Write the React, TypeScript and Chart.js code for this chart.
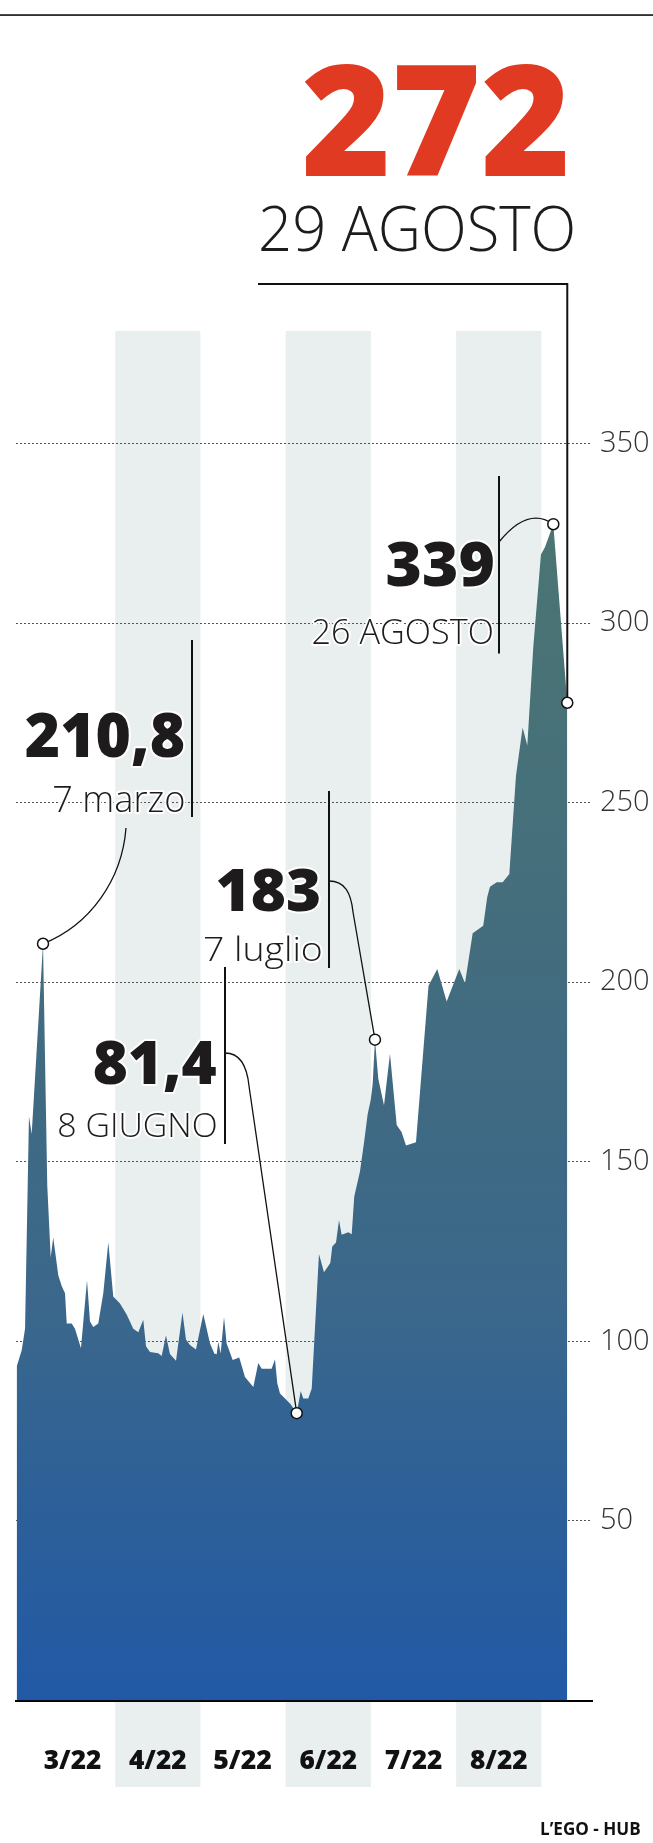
import React, { useEffect, useRef } from 'react';
import { Chart, registerables } from 'chart.js';

Chart.register(...registerables);

// ---------- data ----------
const monthLabels = ['3/22', '4/22', '5/22', '6/22', '7/22', '8/22'];
const shadedMonths = [1, 3, 5];
const yTicks = [50, 100, 150, 200, 250, 300, 350];

// x = months since 1 March 2022 (band units), y = price as drawn
const priceX = [
  -0.155, -0.096, -0.057, -0.011, 0.021, 0.154, 0.204, 0.244, 0.274, 0.333,
  0.373, 0.412, 0.432, 0.49, 0.529, 0.599, 0.67, 0.705, 0.744, 0.802,
  0.861, 0.92, 0.978, 1.057, 1.135, 1.213, 1.272, 1.33, 1.362, 1.409,
  1.506, 1.546, 1.596, 1.643, 1.714, 1.79, 1.831, 1.878, 1.948, 2.034,
  2.113, 2.163, 2.191, 2.21, 2.238, 2.277, 2.308, 2.379, 2.456, 2.523,
  2.621, 2.679, 2.719, 2.836, 2.875, 2.902, 2.934, 2.993, 3.059, 3.13,
  3.177, 3.207, 3.266, 3.306, 3.391, 3.45, 3.524, 3.547, 3.591, 3.626,
  3.657, 3.735, 3.775, 3.805, 3.872, 3.919, 3.962, 3.998, 4.021, 4.048,
  4.087, 4.154, 4.224, 4.303, 4.361, 4.412, 4.529, 4.676, 4.779, 4.889,
  5.037, 5.104, 5.194, 5.318, 5.365, 5.397, 5.476, 5.546, 5.624, 5.702,
  5.78, 5.835, 5.905, 5.995, 6.042, 6.14, 6.304,
];
const priceY = [
  93, 97.5, 103.5, 162.7, 157.7, 210.7, 143.3, 123.4, 128.9, 118.4,
  115.4, 113.4, 105, 105, 103.5, 98.1, 117, 105.5, 104, 105,
  113.4, 127.6, 112.5, 110.5, 107.5, 103.5, 102.5, 106, 98.6, 97,
  96.7, 95.9, 101.7, 96.5, 94.6, 108, 100.5, 99, 97.7, 107.6,
  99.4, 96.6, 96.4, 99.9, 96.6, 106.8, 99.4, 94.8, 95.5, 90.1,
  87.3, 94, 92.4, 92.4, 95, 88.3, 85.5, 84.1, 82.5, 80,
  86.2, 84.1, 84.1, 86.9, 124.3, 119.2, 121.8, 126.4, 127.5, 133.8,
  129.7, 130.4, 129.8, 140.3, 147.3, 155.2, 163.2, 167.2, 171.6, 184,
  173.1, 165.7, 180.1, 160.2, 158.2, 154.5, 155.4, 199, 203.7, 194.6,
  203.7, 199.7, 213.6, 215.7, 223.7, 226.6, 227.8, 227.8, 230.1, 257.5,
  270.9, 265.9, 293.3, 319.1, 321.1, 327.5, 277.8,
];
// highlighted points: 7 marzo, 8 giugno, 7 luglio, 26 agosto, 29 agosto
const highlightX = [0.154, 3.13, 4.048, 6.14, 6.304];
const highlightValues = ['210,8', '81,4', '183', '339', '272'];
const highlightDates = ['7 marzo', '8 GIUGNO', '7 luglio', '26 AGOSTO', '29 AGOSTO'];

// ---------- layout / style ----------
const W = 653;
const H = 1843;
const FONT = '"Open Sans", "DejaVu Sans", sans-serif';
const X_MIN = -0.163;
const X_MAX = 6.594;
const Y_MAX = 381.3;
const BAND_BOTTOM = 1787;
const INK = '#1d1b1c';

type TextOpts = {
  left?: number;
  right?: number;
  center?: number;
  base: number;
  cap: number;
  width?: number;
  weight: string;
  color: string;
  halo?: number;
};

function inkText(ctx: CanvasRenderingContext2D, text: string, o: TextOpts) {
  ctx.save();
  ctx.font = `${o.weight} 100px ${FONT}`;
  const capRatio = ctx.measureText('H').actualBoundingBoxAscent / 100 || 0.714;
  const size = o.cap / capRatio;
  ctx.font = `${o.weight} ${size}px ${FONT}`;
  ctx.textAlign = 'left';
  ctx.textBaseline = 'alphabetic';
  const m = ctx.measureText(text);
  const inkL = m.actualBoundingBoxLeft;
  const inkR = m.actualBoundingBoxRight;
  const sx = o.width ? o.width / (inkL + inkR) : 1;
  const w = (inkL + inkR) * sx;
  let x0: number;
  if (o.left !== undefined) x0 = o.left + inkL * sx;
  else if (o.right !== undefined) x0 = o.right - inkR * sx;
  else x0 = (o.center as number) - w / 2 + inkL * sx;
  ctx.translate(x0, o.base);
  ctx.scale(sx, 1);
  if (o.halo) {
    ctx.lineWidth = o.halo;
    ctx.lineJoin = 'round';
    ctx.strokeStyle = '#fff';
    ctx.strokeText(text, 0, 0);
  }
  ctx.fillStyle = o.color;
  ctx.fillText(text, 0, 0);
  ctx.restore();
}

const decor = {
  id: 'decor',
  beforeDraw(chart: any) {
    const { ctx, chartArea } = chart;
    const xs = chart.scales.x;
    ctx.save();
    // top rule
    ctx.fillStyle = '#000';
    ctx.fillRect(0, 14.3, W, 1.5);
    // month bands
    ctx.fillStyle = '#E9EFEF';
    shadedMonths.forEach((i) => {
      const l = xs.getPixelForValue(i);
      const r = xs.getPixelForValue(i + 1);
      ctx.fillRect(l, chartArea.top, r - l, BAND_BOTTOM - chartArea.top);
    });
    ctx.restore();
  },
  beforeDatasetDraw(chart: any, args: any) {
    if (args.index !== 0) return;
    const { ctx } = chart;
    const xs = chart.scales.x;
    const ys = chart.scales.y;
    const pts = highlightX.map((hx) => {
      const i = priceX.indexOf(hx);
      return { x: xs.getPixelForValue(priceX[i]), y: ys.getPixelForValue(priceY[i]) };
    });
    ctx.save();
    ctx.strokeStyle = '#111';
    ctx.lineCap = 'butt';
    // vertical bars beside labels
    ctx.lineWidth = 2;
    const bars = [
      [192, 640, 817],
      [225, 967, 1144],
      [329, 791, 968],
      [499, 476, 653.5],
    ];
    bars.forEach(([x, t, b]) => {
      ctx.beginPath();
      ctx.moveTo(x, t);
      ctx.lineTo(x, b);
      ctx.stroke();
    });
    // bracket for 29 agosto
    ctx.beginPath();
    ctx.moveTo(258, 284);
    ctx.lineTo(pts[4].x, 284);
    ctx.lineTo(pts[4].x, pts[4].y);
    ctx.stroke();
    // connectors
    ctx.lineWidth = 1.3;
    ctx.beginPath();
    ctx.moveTo(126, 828);
    ctx.bezierCurveTo(122, 880, 90, 925, pts[0].x, pts[0].y);
    ctx.stroke();
    ctx.beginPath();
    ctx.moveTo(225, 1053);
    ctx.bezierCurveTo(240, 1053, 247, 1066, 249, 1086);
    ctx.lineTo(pts[1].x, pts[1].y);
    ctx.stroke();
    ctx.beginPath();
    ctx.moveTo(329, 881);
    ctx.bezierCurveTo(345, 881, 351, 893, 353, 912);
    ctx.lineTo(pts[2].x, pts[2].y);
    ctx.stroke();
    ctx.beginPath();
    ctx.moveTo(499, 542);
    ctx.quadraticCurveTo(528, 506, pts[3].x, pts[3].y);
    ctx.stroke();
    ctx.restore();
  },
  afterDraw(chart: any) {
    const { ctx } = chart;
    const xs = chart.scales.x;
    // headline
    inkText(ctx, highlightValues[4], { right: 565.4, base: 176, cap: 111, width: 261, weight: '800', color: '#E03A22' });
    inkText(ctx, highlightDates[4], { right: 573, base: 250.7, cap: 44, width: 312, weight: '300', color: INK });
    // annotations
    const big = { weight: '800', color: INK, halo: 4 };
    const small = { weight: '300', color: INK, halo: 4 };
    inkText(ctx, highlightValues[3], { ...big, right: 493, base: 586, cap: 44, width: 105.5 });
    inkText(ctx, highlightDates[3], { ...small, right: 491.7, base: 644.3, cap: 25.3, width: 179.2 });
    inkText(ctx, highlightValues[0], { ...big, right: 183.3, base: 757.3, cap: 44, width: 157.5 });
    inkText(ctx, highlightDates[0], { ...small, right: 183.3, base: 811.5, cap: 25.5, width: 130 });
    inkText(ctx, highlightValues[2], { ...big, right: 319.5, base: 910.7, cap: 42.5, width: 102 });
    inkText(ctx, highlightDates[2], { ...small, right: 320.8, base: 961, cap: 24, width: 116.8 });
    inkText(ctx, highlightValues[1], { ...big, right: 216.7, base: 1084, cap: 43, width: 123 });
    inkText(ctx, highlightDates[1], { ...small, right: 215.8, base: 1137.3, cap: 24, width: 157.5 });
    // month labels
    monthLabels.forEach((lab, i) => {
      inkText(ctx, lab, { center: xs.getPixelForValue(i + 0.5), base: 1769, cap: 18.6, width: 57.5, weight: '800', color: '#111' });
    });
    // credit
    inkText(ctx, "L\u2019EGO - HUB", { left: 541, base: 1835, cap: 12.5, width: 99, weight: '700', color: '#111' });
  },
};

export default function App() {
  const ref = useRef<HTMLCanvasElement>(null);
  useEffect(() => {
    document.body.style.margin = '0';
    const canvas = ref.current as HTMLCanvasElement;
    const pricePoints = priceX.map((x, i) => ({ x, y: priceY[i] }));
    const markerPoints = highlightX.map((hx) => {
      const i = priceX.indexOf(hx);
      return { x: priceX[i], y: priceY[i] };
    });
    const chart = new Chart(canvas, {
      type: 'line',
      data: {
        datasets: [
          {
            data: markerPoints,
            showLine: false,
            pointRadius: 5.5,
            pointHoverRadius: 5.5,
            pointBackgroundColor: '#ffffff',
            pointBorderColor: '#111111',
            pointBorderWidth: 1.5,
          },
          {
            data: pricePoints,
            fill: 'origin',
            borderWidth: 0,
            pointRadius: 0,
            tension: 0,
            backgroundColor: (c: any) => {
              const area = c.chart.chartArea;
              if (!area) return '#3a6a8c';
              const g = c.chart.ctx.createLinearGradient(0, area.top, 0, area.bottom);
              g.addColorStop(0, '#4C7672');
              g.addColorStop(0.14, '#4B7473');
              g.addColorStop(0.35, '#46707A');
              g.addColorStop(0.55, '#406A82');
              g.addColorStop(0.72, '#3A678C');
              g.addColorStop(0.85, '#2D6098');
              g.addColorStop(1, '#2259A6');
              return g;
            },
          },
        ],
      },
      options: {
        animation: false,
        responsive: false,
        maintainAspectRatio: false,
        events: [],
        layout: { padding: { top: 331, left: 16, right: 0, bottom: 0 } },
        plugins: { legend: { display: false }, tooltip: { enabled: false } },
        scales: {
          x: {
            type: 'linear',
            min: X_MIN,
            max: X_MAX,
            z: 1,
            grid: { display: false, drawTicks: false },
            border: { display: true, color: '#000', width: 2 },
            ticks: { display: false },
            afterFit: (s: any) => {
              s.height = H - 1700.5;
            },
          },
          y: {
            type: 'linear',
            position: 'right',
            min: 0,
            max: Y_MAX,
            afterBuildTicks: (s: any) => {
              s.ticks = yTicks.map((v) => ({ value: v }));
            },
            afterFit: (s: any) => {
              s.width = 61;
            },
            grid: { color: '#555', lineWidth: 1, drawTicks: false },
            border: { display: false, dash: [2, 2] },
            ticks: {
              padding: 8,
              color: '#333',
              font: { family: FONT, size: 29, weight: '300' as any },
            },
          },
        },
      },
      plugins: [decor],
    } as any);
    return () => chart.destroy();
  }, []);
  return (
    <div style={{ width: W, height: H }}>
      <canvas ref={ref} width={W} height={H} style={{ display: 'block', width: W, height: H }} />
    </div>
  );
}
